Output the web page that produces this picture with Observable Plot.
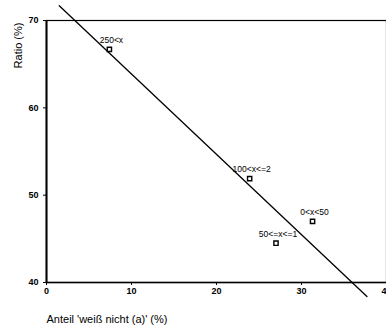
<!DOCTYPE html>
<html>
<head>
<meta charset="utf-8">
<script src="https://cdn.jsdelivr.net/npm/d3@7"></script>
<script src="https://cdn.jsdelivr.net/npm/@observablehq/plot@0.6"></script>
<style>
  html, body { margin: 0; padding: 0; background: #fff; }
  svg { display: block; }
</style>
</head>
<body>
<div id="chart"></div>
<script>
// Groups and their measured values
const groups = ["250<x", "100<x<=2", "0<x<50", "50<=x<=1"];
const shareDontKnow = [7.4, 23.9, 31.3, 27.0];   // Anteil 'weiß nicht (a)' (%)
const ratio = [66.7, 51.9, 47.0, 44.5];          // Ratio (%)

// Fitted trend line endpoints
const fitX = [1.5, 37.7];
const fitY = [71.7, 38.4];

const xTicks = [0, 10, 20, 30, 40];
const yTicks = [40, 50, 60, 70];

const points = groups.map((g, i) => ({group: g, x: shareDontKnow[i], y: ratio[i]}));
const fit = fitX.map((x, i) => ({x, y: fitY[i]}));

const chart = Plot.plot({
  width: 386,
  height: 330,
  marginLeft: 46,
  marginRight: 0,
  marginTop: 20,
  marginBottom: 48,
  style: {fontFamily: "'Liberation Sans', Arial, sans-serif", background: "#fff", color: "#000"},
  x: {domain: [0, 40]},
  y: {domain: [40, 70]},
  marks: [
    Plot.frame({stroke: "#000", strokeWidth: 1.2}),
    Plot.ruleX([0], {stroke: "#000", strokeWidth: 2}),
    Plot.ruleY([40], {stroke: "#000", strokeWidth: 1.5}),
    Plot.axisX({ticks: xTicks, tickSize: 3, tickPadding: 2, fontSize: 9, fontWeight: "bold", label: null}),
    Plot.axisY({ticks: yTicks, tickSize: 3, tickPadding: 5, fontSize: 9, fontWeight: "bold", label: null}),
    Plot.text(["Anteil 'weiß nicht (a)' (%)"], {
      frameAnchor: "bottom-left", dy: 40, fontSize: 11, textAnchor: "start"
    }),
    Plot.text(["Ratio (%)"], {
      frameAnchor: "top-left", rotate: -90, dx: -32, dy: 25,
      fontSize: 11, textAnchor: "middle"
    }),
    Plot.line(fit, {x: "x", y: "y", stroke: "#000", strokeWidth: 1.3}),
    Plot.dot(points, {x: "x", y: "y", symbol: "square", r: 2.4, stroke: "#000", strokeWidth: 1.4, fill: "#fff"}),
    Plot.text(points, {x: "x", y: "y", text: "group", dy: -9, dx: 2, fontSize: 8.5})
  ]
});

document.getElementById("chart").append(chart);
</script>
</body>
</html>
